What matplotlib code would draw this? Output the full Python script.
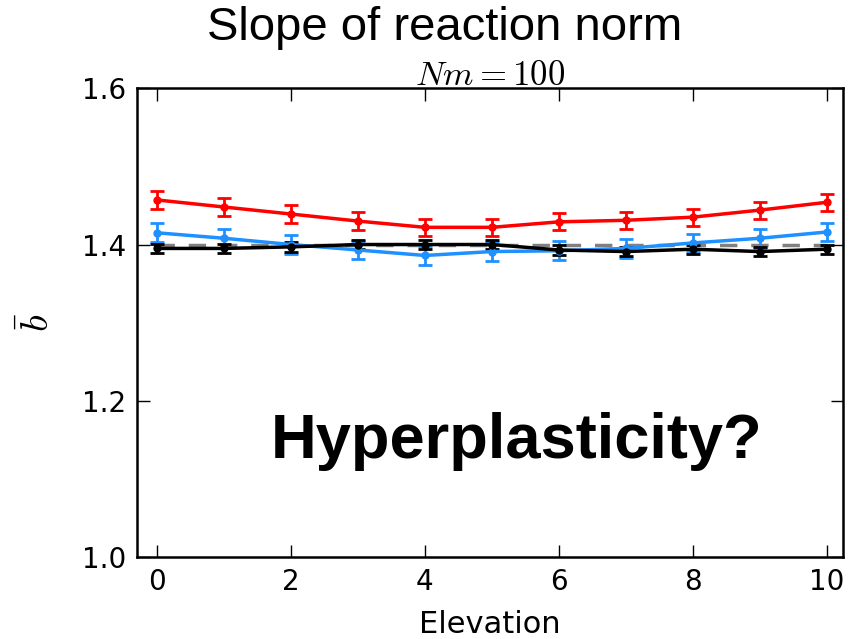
import numpy as np
import matplotlib.pyplot as plt

plt.rcParams['mathtext.fontset'] = 'cm'

elevation = np.arange(11)

# mean slope per elevation, one series per model
red_mean = [1.457, 1.448, 1.439, 1.430, 1.422, 1.422, 1.429, 1.431, 1.435, 1.444, 1.454]
red_err = [0.011] * 11
blue_mean = [1.415, 1.408, 1.400, 1.393, 1.386, 1.391, 1.392, 1.395, 1.402, 1.408, 1.416]
blue_err = [0.012] * 11
black_mean = [1.395, 1.395, 1.397, 1.400, 1.400, 1.400, 1.393, 1.391, 1.394, 1.391, 1.394]
black_err = [0.006] * 11
reference_b = 1.4

fig = plt.figure(figsize=(8.59, 6.39), dpi=100)
ax = fig.add_axes([0.1595, 0.128, 0.8215, 0.734])

ax.plot([0, 10], [reference_b, reference_b], color='gray', ls='--', lw=2.5, dashes=(5, 4), zorder=1)
for mean, err, col in [(red_mean, red_err, '#ff0000'),
                       (blue_mean, blue_err, '#1e90ff'),
                       (black_mean, black_err, 'black')]:
    ax.errorbar(elevation, mean, yerr=err, color=col, lw=2.5, marker='o', ms=5,
                capsize=5, capthick=2, elinewidth=2, zorder=2)

ax.set_xlim(-0.3, 10.24)
ax.set_ylim(1.0, 1.6)
ax.set_xticks([0, 2, 4, 6, 8, 10])
ax.set_yticks([1.0, 1.2, 1.4, 1.6])
ax.tick_params(direction='in', top=True, right=True, length=9, width=1, labelsize=20, pad=8)
for s in ax.spines.values():
    s.set_linewidth(1.8)

ax.set_xlabel('Elevation', fontsize=22, labelpad=10)
ax.set_ylabel(r'$\bar{b}$', fontsize=28, labelpad=18)
ax.set_title(r'$Nm = 100$', fontsize=25, pad=2)

fig.text(0.518, 0.956, 'Slope of reaction norm', ha='center', va='center',
         fontsize=34, family='Liberation Sans')
ax.text(5.37, 1.127, 'Hyperplasticity?', ha='center', va='baseline',
        fontsize=45.5, fontweight='bold', family='Liberation Sans')

fig.savefig('out.png', dpi=100)
